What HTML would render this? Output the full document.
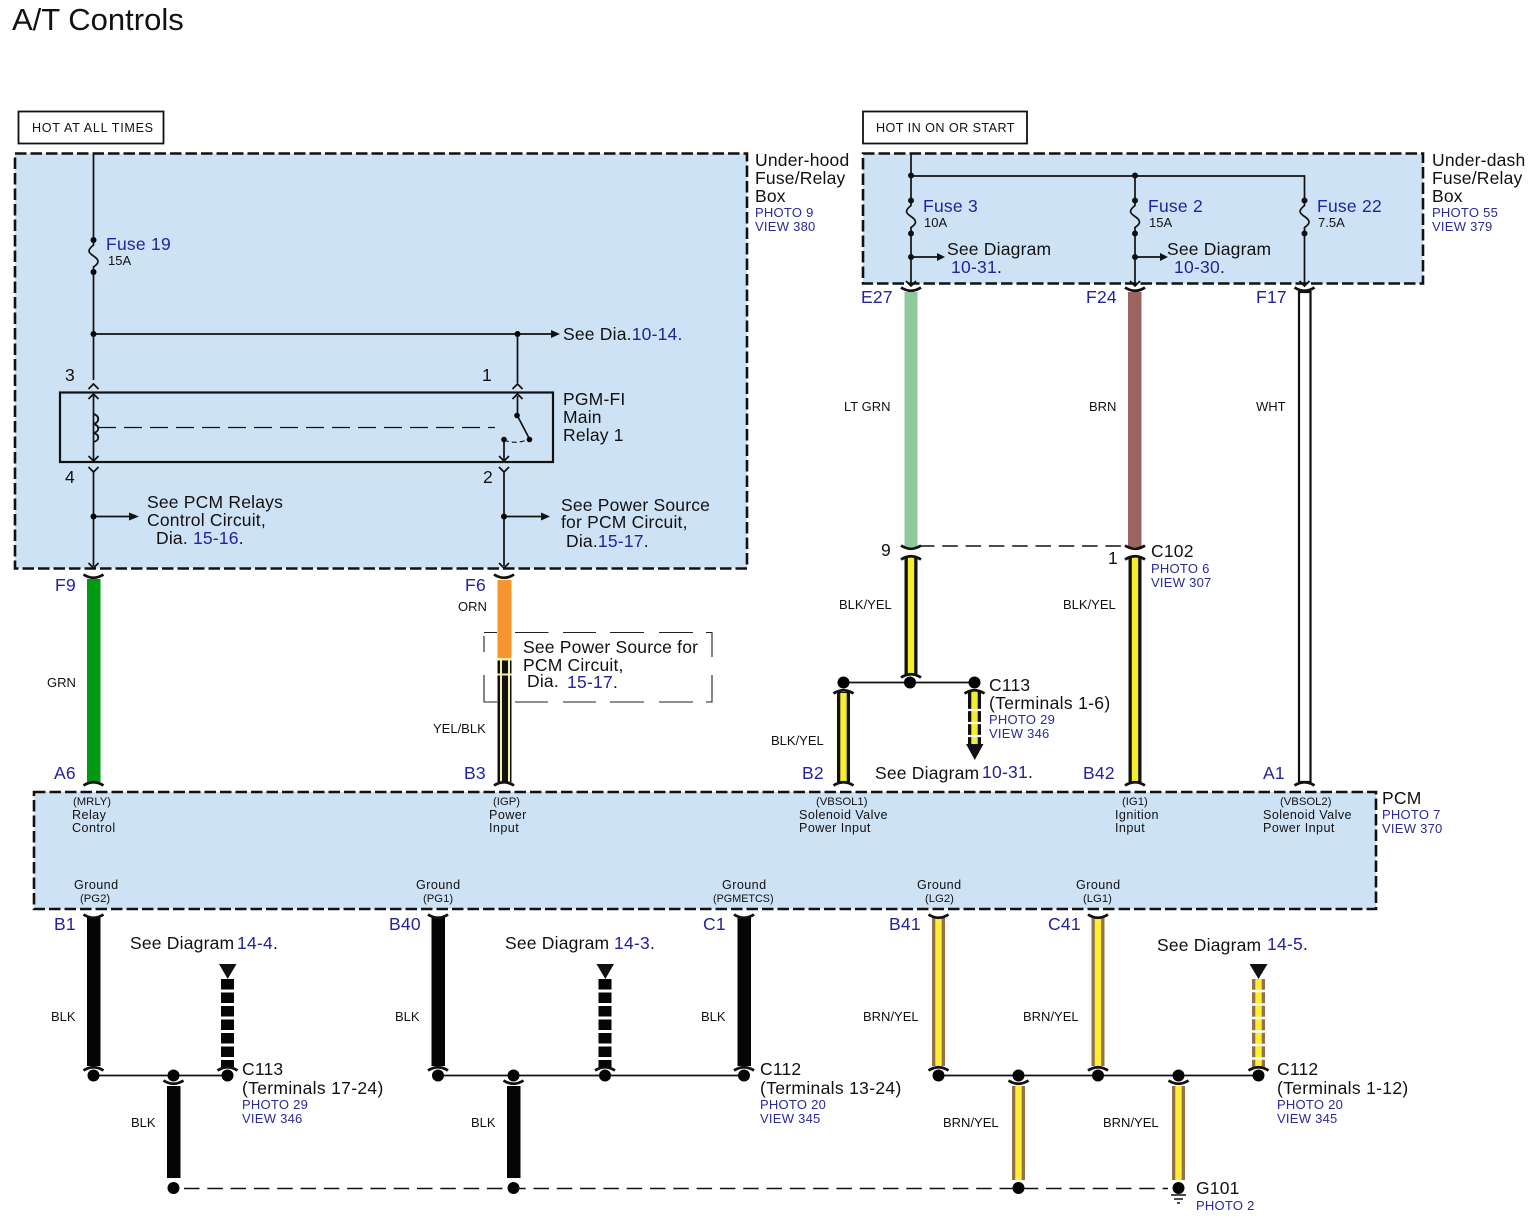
<!DOCTYPE html>
<html><head><meta charset="utf-8"><title>A/T Controls</title>
<style>
html,body{margin:0;padding:0;background:#fff}
svg{display:block}
text{font-family:"Liberation Sans",Arial,sans-serif;fill:#111}
.t{font-size:17.5px;letter-spacing:.2px}
.b{font-size:17.5px;fill:#23239b;letter-spacing:.25px}
.s{font-size:13px;fill:#2a2a95;letter-spacing:.25px}
.w{font-size:13px}
.p{font-size:12.6px;letter-spacing:.42px}
.q{font-size:11.3px}
.tm{letter-spacing:.32px}
tspan.u{fill:#23239b}
.box{fill:#cee2f6;stroke:#111;stroke-width:2.6;stroke-dasharray:11.5 4}
.l{stroke:#111;stroke-width:1.7;fill:none}
</style></head><body>
<svg width="1535" height="1223" viewBox="0 0 1535 1223" xmlns="http://www.w3.org/2000/svg">
<defs>
<path id="sm" d="M-10,-2.500 Q0,4 10,-2.500" fill="none" stroke="#111" stroke-width="2.800"/>
<path id="fr" d="M-10,2.500 Q0,-4 10,2.500" fill="none" stroke="#111" stroke-width="2.800"/>
<path id="up" d="M-5,4 L0,-1 L5,4" fill="none" stroke="#111" stroke-width="1.700"/>
<path id="dn" d="M-5,-4 L0,1 L5,-4" fill="none" stroke="#111" stroke-width="1.700"/>
<path id="fz" d="M0,-1 L0,5 C-6,10 -6,12 0,16 C6,20 6,23 0,27 L0,33" fill="none" stroke="#111" stroke-width="1.700"/>
</defs>
<rect width="1535" height="1223" fill="#fff"/>

<text x="12" y="30" style="font-size:31px">A/T Controls</text>

<rect x="18.500" y="111.500" width="145" height="32" fill="#fff" stroke="#111" stroke-width="1.800"/>
<text x="32" y="132" style="font-size:12.600px;letter-spacing:.7px">HOT AT ALL TIMES</text>
<rect x="863" y="111.500" width="164" height="32" fill="#fff" stroke="#111" stroke-width="1.800"/>
<text x="876" y="132" style="font-size:12.600px;letter-spacing:.45px">HOT IN ON OR START</text>

<rect class="box" x="15" y="153.500" width="732" height="415"/>
<rect class="box" x="863" y="153.500" width="560" height="130"/>
<rect class="box" x="34" y="792" width="1342" height="117"/>

<!-- under-hood wiring -->
<path class="l" d="M93.500,153V238M93.500,272V380M93.500,334H552M517.500,334V383M93.500,395V460M93.500,472V566M504,472V566M517.500,396V415M504,439V460M93.500,516.500H130M504,516.500H542"/>
<use href="#fz" x="93.500" y="240"/>
<circle cx="93.500" cy="240" r="3"/><circle cx="93.500" cy="272" r="3"/><circle cx="93.500" cy="334" r="3"/><circle cx="517.500" cy="334" r="3"/>
<path d="M551,330L560,334L551,338Z M129,512.500L139,516.500L129,520.500Z M541,512.500L550,516.500L541,520.500Z" fill="#111"/>
<circle cx="93.500" cy="516.500" r="3"/><circle cx="504" cy="516.500" r="3"/>
<rect x="60" y="392.500" width="493" height="69.500" fill="none" stroke="#111" stroke-width="2.200"/>
<use href="#up" x="93.500" y="385"/><use href="#up" x="93.500" y="395"/><use href="#up" x="517.500" y="385"/><use href="#up" x="517.500" y="395"/>
<use href="#dn" x="93.500" y="460"/><use href="#dn" x="93.500" y="471"/><use href="#dn" x="504" y="460"/><use href="#dn" x="504" y="471"/>
<use href="#dn" x="93.500" y="567"/><use href="#dn" x="504" y="567"/>
<path d="M93,414 C100,415 100,423 93,424 C100,425 100,432 93,433 C100,434 100,441 93,442" fill="none" stroke="#111" stroke-width="1.900"/>
<path d="M98,427.500H495" stroke="#111" stroke-width="1.200" stroke-dasharray="18 8" fill="none"/>
<path d="M517,415L529.500,439" stroke="#111" stroke-width="1.700"/>
<path d="M504,440 Q516,445 529,439" fill="none" stroke="#111" stroke-width="1.100" stroke-dasharray="5 3"/>
<circle cx="517" cy="415.500" r="2.800"/><circle cx="529.500" cy="439.500" r="2.800"/><circle cx="504" cy="439.500" r="2.800"/>

<!-- under-dash wiring -->
<path class="l" d="M911,153V198M911,234V285M911,176H1304.500V198M1135,176V198M1135,234V285M1304.500,234V285M911,257H937M1135,257H1160"/>
<use href="#fz" x="911" y="200.500"/><use href="#fz" x="1135" y="200.500"/><use href="#fz" x="1304.500" y="200.500"/>
<g fill="#111">
<circle cx="911" cy="175.500" r="3"/><circle cx="1135" cy="175.500" r="3"/>
<circle cx="911" cy="200.500" r="3"/><circle cx="911" cy="233.500" r="3"/><circle cx="1135" cy="200.500" r="3"/><circle cx="1135" cy="233.500" r="3"/><circle cx="1304.500" cy="200.500" r="3"/><circle cx="1304.500" cy="233.500" r="3"/>
<circle cx="911" cy="257" r="3"/><circle cx="1135" cy="257" r="3"/>
<path d="M937,253L945,257L937,261Z M1160,253L1168,257L1160,261Z"/>
</g>
<use href="#dn" x="911" y="285"/><use href="#dn" x="1135" y="285"/><use href="#dn" x="1304.500" y="285"/>

<!-- dashed note box (behind wire) -->
<path d="M484,632.500H497M515,632.500H548.500M563,632.500H596M610,632.500H644M659,632.500H693M706,632.500H712V657M712,675V702H706M693,702H659M644,702H610M596,702H563M548,702H515M497,702H484V675M484,652V636" fill="none" stroke="#222" stroke-width="1.100"/>

<!-- upper wires -->
<rect x="87" y="579" width="13.500" height="203" fill="#009a10"/>
<use href="#sm" x="93.500" y="577"/><use href="#fr" x="93.500" y="783"/>
<rect x="497.500" y="580" width="14" height="78" fill="#f7962f"/>
<use href="#sm" x="504" y="577"/>
<rect x="497.500" y="658" width="14" height="124" fill="#111"/>
<rect x="497.500" y="658" width="14" height="2.500" fill="#f7efb0"/>
<rect x="497.500" y="673.500" width="14" height="2" fill="#f7efb0"/>
<rect x="500" y="660" width="2" height="122" fill="#f7efb0"/>
<rect x="508" y="660" width="2" height="122" fill="#f7efb0"/>
<use href="#fr" x="504" y="783"/>

<!-- LT GRN / BRN / WHT -->
<rect x="904.500" y="292" width="13" height="255" fill="#8fc89a"/>
<rect x="1128" y="292" width="13.500" height="255" fill="#9a6460"/>
<rect x="1299" y="292" width="11.500" height="490" fill="#fff" stroke="#111" stroke-width="2.200"/>
<use href="#sm" x="911" y="290"/><use href="#sm" x="1135" y="290"/><use href="#sm" x="1304.500" y="290"/>
<use href="#fr" x="1304.500" y="783"/>
<use href="#sm" x="911" y="548"/><use href="#sm" x="1135" y="548"/>
<path d="M919,546H1128" stroke="#111" stroke-width="1.500" stroke-dasharray="15.500 7.800" fill="none"/>

<!-- BLK/YEL -->
<g>
<rect x="904.500" y="557" width="13" height="117" fill="#111"/><rect x="907.800" y="557" width="6.400" height="117" fill="#f5ee2e"/>
<use href="#fr" x="911" y="557"/><use href="#fr" x="911" y="675"/>
<rect x="1128.500" y="557" width="13" height="225" fill="#111"/><rect x="1131.800" y="557" width="6.400" height="225" fill="#f5ee2e"/>
<use href="#fr" x="1135" y="557"/><use href="#fr" x="1135" y="783"/>
<rect x="837" y="692" width="13" height="90" fill="#111"/><rect x="840.300" y="693" width="6.400" height="89" fill="#f5ee2e"/>
<use href="#fr" x="843.500" y="691"/><use href="#fr" x="843.500" y="783"/>
<rect x="968" y="692" width="13" height="54" fill="#111"/><rect x="971.300" y="692" width="6.400" height="54" fill="#f5ee2e"/>
<use href="#fr" x="974.500" y="691"/>
<path d="M968,710H981M968,723H981M968,736H981" stroke="#fff" stroke-width="2.200"/>
<path d="M966,744H983.500L974.800,760Z" fill="#111"/>
</g>
<path class="l" d="M843.500,682.500H974.500"/>
<circle cx="843.500" cy="682.500" r="6"/><circle cx="910" cy="682.500" r="6"/><circle cx="974.500" cy="682.500" r="6"/>

<!-- lower wires black -->
<path d="M87,917H100.500V1066H87Z M167,1086H180.500V1178H167Z M431.500,917H445V1066H431.500Z M507,1086H520.500V1178H507Z M737.500,917H751V1066H737.500Z" fill="#050505"/>
<use href="#sm" x="93.500" y="917"/><use href="#sm" x="438" y="917"/><use href="#sm" x="744" y="917"/>
<use href="#fr" x="93.500" y="1068"/><use href="#fr" x="227.500" y="1068"/><use href="#fr" x="438" y="1068"/><use href="#fr" x="605" y="1068"/><use href="#fr" x="744" y="1068"/>
<use href="#sm" x="173.500" y="1083"/><use href="#sm" x="513.500" y="1083"/><use href="#sm" x="1018.500" y="1083"/><use href="#sm" x="1178.500" y="1083"/>
<rect x="221" y="979" width="13" height="88" fill="#050505"/>
<rect x="598.500" y="979" width="13" height="88" fill="#050505"/>
<path d="M221,991H234M221,1004.500H234M221,1018H234M221,1031.500H234M221,1045H234M221,1058.500H234M598.500,991H611.500M598.500,1004.500H611.500M598.500,1018H611.500M598.500,1031.500H611.500M598.500,1045H611.500M598.500,1058.500H611.500" stroke="#fff" stroke-width="3"/>
<path d="M219,964H236.500L227.700,979Z M596.500,964H614L605.300,979Z M1249.500,964H1267.500L1258.500,979Z" fill="#111"/>

<!-- brn/yel -->
<g>
<rect x="932" y="917" width="13" height="149" fill="#94704f"/><rect x="935.300" y="917" width="6.400" height="149" fill="#ffef30"/>
<rect x="1091.500" y="917" width="13" height="149" fill="#94704f"/><rect x="1094.800" y="917" width="6.400" height="149" fill="#ffef30"/>
<rect x="1012" y="1086" width="13" height="94" fill="#94704f"/><rect x="1015.300" y="1086" width="6.400" height="94" fill="#ffef30"/>
<rect x="1172" y="1086" width="13" height="94" fill="#94704f"/><rect x="1175.300" y="1086" width="6.400" height="94" fill="#ffef30"/>
<rect x="1252" y="979" width="13" height="88" fill="#94704f"/><rect x="1255.300" y="979" width="6.400" height="88" fill="#ffef30"/>
<path d="M1252,991H1265M1252,1004.500H1265M1252,1018H1265M1252,1031.500H1265M1252,1045H1265M1252,1058.500H1265" stroke="#fff" stroke-width="2.400"/>
</g>
<use href="#sm" x="938.500" y="917"/><use href="#sm" x="1098" y="917"/>
<use href="#fr" x="938.500" y="1068"/><use href="#fr" x="1098" y="1068"/><use href="#fr" x="1258.500" y="1068"/>

<path class="l" d="M93.500,1075.500H227.500M438,1075.500H744M938.500,1075.500H1258.500"/>
<g fill="#050505">
<circle cx="93.500" cy="1075.500" r="6"/><circle cx="173.500" cy="1075.500" r="6"/><circle cx="227.500" cy="1075.500" r="6"/>
<circle cx="438" cy="1075.500" r="6"/><circle cx="513.500" cy="1075.500" r="6"/><circle cx="605" cy="1075.500" r="6"/><circle cx="744" cy="1075.500" r="6"/>
<circle cx="938.500" cy="1075.500" r="6"/><circle cx="1018.500" cy="1075.500" r="6"/><circle cx="1098" cy="1075.500" r="6"/><circle cx="1178.500" cy="1075.500" r="6"/><circle cx="1258.500" cy="1075.500" r="6"/>
<circle cx="173.500" cy="1188" r="6"/><circle cx="513.500" cy="1188" r="6"/><circle cx="1018.500" cy="1188" r="6"/><circle cx="1178.500" cy="1188" r="6"/>
</g>
<path d="M184,1188.500H1168" stroke="#111" stroke-width="1.500" stroke-dasharray="15.500 7.800" fill="none"/>
<path d="M1171,1195H1186M1174,1199H1183M1177,1203H1180" stroke="#111" stroke-width="1.400"/>

<!-- box labels -->
<text class="t" x="755" y="166">Under-hood</text><text class="t" x="755" y="184">Fuse/Relay</text><text class="t" x="755" y="202">Box</text>
<text class="s" x="755" y="217">PHOTO 9</text><text class="s" x="755" y="231">VIEW 380</text>
<text class="t" x="1432" y="166">Under-dash</text><text class="t" x="1432" y="184">Fuse/Relay</text><text class="t" x="1432" y="202">Box</text>
<text class="s" x="1432" y="217">PHOTO 55</text><text class="s" x="1432" y="231">VIEW 379</text>

<text class="b" x="106" y="250">Fuse 19</text><text class="w" x="108" y="265">15A</text>
<text class="t" x="563" y="340">See Dia.<tspan class="u">10-14.</tspan></text>
<text class="t" x="65" y="381">3</text><text class="t" x="482" y="381">1</text>
<text class="t" x="65" y="483">4</text><text class="t" x="483" y="483">2</text>
<text class="t" x="563" y="405">PGM-FI</text><text class="t" x="563" y="423">Main</text><text class="t" x="563" y="441">Relay 1</text>
<text class="t" x="147" y="508">See PCM Relays</text><text class="t" x="147" y="526">Control Circuit,</text><text class="t" x="156" y="544">Dia. <tspan class="u">15-16</tspan>.</text>
<text class="t" x="561" y="511">See Power Source</text><text class="t" x="561" y="528">for PCM Circuit,</text><text class="t" x="566" y="547">Dia.<tspan class="u">15-17</tspan>.</text>

<text class="b" x="923" y="212">Fuse 3</text><text class="w" x="924" y="227">10A</text>
<text class="b" x="1148" y="212">Fuse 2</text><text class="w" x="1149" y="227">15A</text>
<text class="b" x="1317" y="212">Fuse 22</text><text class="w" x="1318" y="227">7.5A</text>
<text class="t" x="947" y="255">See Diagram</text><text class="b" x="951" y="273">10-31<tspan fill="#111">.</tspan></text>
<text class="t" x="1167" y="255">See Diagram</text><text class="b" x="1174" y="273">10-30<tspan fill="#111">.</tspan></text>

<text class="b" x="861" y="303">E27</text><text class="b" x="1086" y="303">F24</text><text class="b" x="1256" y="303">F17</text>
<text class="w" x="844" y="411">LT GRN</text><text class="w" x="1089" y="411">BRN</text><text class="w" x="1256" y="411">WHT</text>
<text class="t" x="881" y="556">9</text><text class="t" x="1108" y="564">1</text>
<text class="t" x="1151" y="557">C102</text><text class="s" x="1151" y="573">PHOTO 6</text><text class="s" x="1151" y="587">VIEW 307</text>
<text class="w" x="839" y="609">BLK/YEL</text><text class="w" x="1063" y="609">BLK/YEL</text><text class="w" x="771" y="745">BLK/YEL</text>
<text class="t" x="989" y="691">C113</text><text class="t tm" x="989" y="709">(Terminals 1-6)</text>
<text class="s" x="989" y="724">PHOTO 29</text><text class="s" x="989" y="738">VIEW 346</text>
<text class="t" x="875" y="779">See Diagram</text><text class="b" x="982" y="778">10-31<tspan fill="#111">.</tspan></text>

<text class="b" x="55" y="591">F9</text><text class="b" x="465" y="591">F6</text>
<text class="w" x="458" y="611">ORN</text><text class="w" x="47" y="687">GRN</text><text class="w" x="433" y="733">YEL/BLK</text>
<text class="t" x="523" y="653">See Power Source for</text><text class="t" x="523" y="671">PCM Circuit,</text><text class="t" x="527" y="687">Dia.</text><text class="b" x="567" y="688">15-17<tspan fill="#111">.</tspan></text>

<text class="b" x="54" y="779">A6</text><text class="b" x="464" y="779">B3</text><text class="b" x="802" y="779">B2</text><text class="b" x="1083" y="779">B42</text><text class="b" x="1263" y="779">A1</text>

<text class="t" x="1382" y="804">PCM</text><text class="s" x="1382" y="819">PHOTO 7</text><text class="s" x="1382" y="833">VIEW 370</text>

<text class="q" x="73" y="805">(MRLY)</text><text class="p" x="72" y="819">Relay</text><text class="p" x="72" y="832">Control</text>
<text class="q" x="493" y="805">(IGP)</text><text class="p" x="489" y="819">Power</text><text class="p" x="489" y="832">Input</text>
<text class="q" x="816" y="805">(VBSOL1)</text><text class="p" x="799" y="819">Solenoid Valve</text><text class="p" x="799" y="832">Power Input</text>
<text class="q" x="1122" y="805">(IG1)</text><text class="p" x="1115" y="819">Ignition</text><text class="p" x="1115" y="832">Input</text>
<text class="q" x="1280" y="805">(VBSOL2)</text><text class="p" x="1263" y="819">Solenoid Valve</text><text class="p" x="1263" y="832">Power Input</text>

<text class="p" x="74" y="889">Ground</text><text class="q" x="80" y="902">(PG2)</text>
<text class="p" x="416" y="889">Ground</text><text class="q" x="423" y="902">(PG1)</text>
<text class="p" x="722" y="889">Ground</text><text class="q" x="713" y="902" style="font-size:10.800px">(PGMETCS)</text>
<text class="p" x="917" y="889">Ground</text><text class="q" x="925" y="902">(LG2)</text>
<text class="p" x="1076" y="889">Ground</text><text class="q" x="1083" y="902">(LG1)</text>

<text class="b" x="54" y="930">B1</text><text class="b" x="389" y="930">B40</text><text class="b" x="703" y="930">C1</text><text class="b" x="889" y="930">B41</text><text class="b" x="1048" y="930">C41</text>

<text class="t" x="130" y="949">See Diagram</text><text class="b" x="237" y="949">14-4<tspan fill="#111">.</tspan></text>
<text class="t" x="505" y="949">See Diagram</text><text class="b" x="614" y="949">14-3<tspan fill="#111">.</tspan></text>
<text class="t" x="1157" y="951">See Diagram</text><text class="b" x="1267" y="950">14-5<tspan fill="#111">.</tspan></text>

<text class="w" x="51" y="1021">BLK</text><text class="w" x="395" y="1021">BLK</text><text class="w" x="701" y="1021">BLK</text>
<text class="w" x="863" y="1021">BRN/YEL</text><text class="w" x="1023" y="1021">BRN/YEL</text>
<text class="w" x="131" y="1127">BLK</text><text class="w" x="471" y="1127">BLK</text>
<text class="w" x="943" y="1127">BRN/YEL</text><text class="w" x="1103" y="1127">BRN/YEL</text>

<text class="t" x="242" y="1075">C113</text><text class="t tm" x="242" y="1094">(Terminals 17-24)</text><text class="s" x="242" y="1109">PHOTO 29</text><text class="s" x="242" y="1123">VIEW 346</text>
<text class="t" x="760" y="1075">C112</text><text class="t tm" x="760" y="1094">(Terminals 13-24)</text><text class="s" x="760" y="1109">PHOTO 20</text><text class="s" x="760" y="1123">VIEW 345</text>
<text class="t" x="1277" y="1075">C112</text><text class="t tm" x="1277" y="1094">(Terminals 1-12)</text><text class="s" x="1277" y="1109">PHOTO 20</text><text class="s" x="1277" y="1123">VIEW 345</text>
<text class="t" x="1196" y="1194">G101</text><text class="s" x="1196" y="1210">PHOTO 2</text>
</svg>
</body></html>
